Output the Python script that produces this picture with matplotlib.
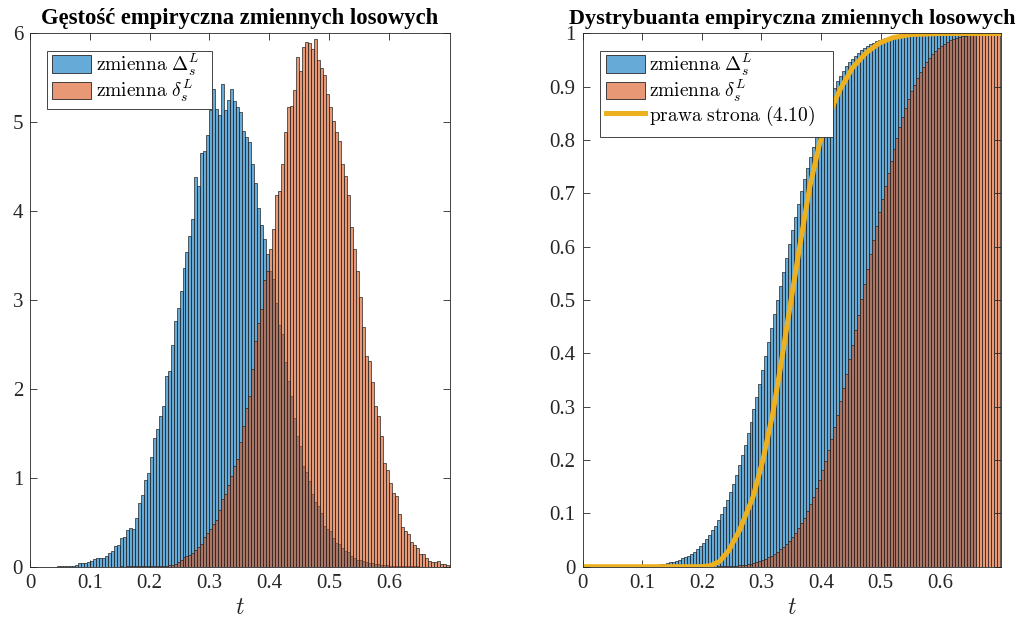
import numpy as np
import matplotlib
matplotlib.use('Agg')
import matplotlib.pyplot as plt
from matplotlib.lines import Line2D
from matplotlib.patches import Patch, Rectangle

plt.rcParams['mathtext.fontset'] = 'cm'
plt.rcParams['font.family'] = ['Liberation Serif', 'DejaVu Serif']

# ---------------- data ----------------
bin_width = 0.005

# empirical density of Delta_s^L, bins [0.005*i, 0.005*(i+1)), i = 0..131
blue_density = [
    0, 0, 0, 0, 0, 0, 0, 0, 0, 0.01,
    0.003, 0.005, 0.008, 0.01, 0.012, 0.02, 0.04, 0.045, 0.04, 0.05,
    0.065, 0.087, 0.094, 0.094, 0.10, 0.12, 0.15, 0.18, 0.23, 0.24,
    0.32, 0.33, 0.41, 0.44, 0.42, 0.55, 0.72, 0.81, 0.98, 1.05,
    1.23, 1.45, 1.55, 1.69, 1.81, 2.15, 2.20, 2.49, 2.76, 2.91,
    3.10, 3.36, 3.54, 3.72, 3.91, 4.38, 4.28, 4.65, 4.68, 4.86,
    5.14, 5.37, 5.15, 5.08, 5.43, 5.14, 5.25, 5.38, 5.24, 5.17,
    5.12, 4.90, 4.83, 4.78, 4.53, 4.32, 4.04, 3.84, 3.69, 3.52,
    3.33, 3.24, 2.97, 2.72, 2.62, 2.30, 2.09, 1.92, 1.67, 1.47,
    1.36, 1.13, 1.07, 0.96, 0.82, 0.73, 0.68, 0.60, 0.46, 0.42,
    0.40, 0.32, 0.27, 0.25, 0.21, 0.18, 0.16, 0.12, 0.10, 0.08,
    0.07, 0.06, 0.05, 0.042, 0.036, 0.03, 0.026, 0.022, 0.018, 0.015,
    0.013, 0.011, 0.01, 0.008, 0.007, 0.006, 0.005, 0.004, 0.004, 0.003,
    0.002, 0.002,
]

# empirical density of delta_s^L, bins i = 0..139
red_density = [
    0, 0, 0, 0, 0, 0, 0, 0, 0, 0,
    0, 0, 0, 0, 0, 0, 0, 0, 0, 0,
    0, 0, 0, 0, 0, 0, 0, 0, 0, 0,
    0.003, 0.001, 0.003, 0.003, 0.003, 0.003, 0.003, 0.003, 0.003, 0.003,
    0.005, 0.005, 0.008, 0.008, 0.01, 0.01, 0.015, 0.02, 0.03, 0.056,
    0.075, 0.11, 0.12, 0.13, 0.15, 0.19, 0.22, 0.26, 0.33, 0.38,
    0.42, 0.48, 0.53, 0.64, 0.76, 0.82, 0.92, 1.02, 1.13, 1.21,
    1.40, 1.58, 1.79, 1.92, 2.22, 2.54, 2.74, 2.90, 3.23, 3.33,
    3.57, 3.80, 4.18, 4.23, 4.53, 4.89, 5.17, 5.18, 5.36, 5.73,
    5.58, 5.85, 5.90, 5.89, 5.82, 5.94, 5.70, 5.61, 5.53, 5.32,
    5.17, 5.02, 4.89, 4.79, 4.53, 4.40, 4.18, 3.82, 3.57, 3.33,
    3.03, 2.70, 2.37, 2.31, 2.08, 1.81, 1.69, 1.47, 1.17, 1.09,
    0.94, 0.83, 0.79, 0.59, 0.45, 0.40, 0.37, 0.28, 0.24, 0.21,
    0.14, 0.14, 0.094, 0.068, 0.056, 0.056, 0.064, 0.03, 0.034, 0.02,
]

# right-hand side of (4.10)
curve_t = [0.0, 0.2, 0.215, 0.23, 0.245, 0.2635, 0.286, 0.3025, 0.319, 0.333,
           0.347, 0.364, 0.381, 0.3975, 0.414, 0.431, 0.453, 0.476, 0.498,
           0.52, 0.55, 0.6, 0.702]
curve_F = [0.0, 0.0, 0.002, 0.01, 0.03, 0.069, 0.131, 0.2, 0.287, 0.381,
           0.481, 0.599, 0.712, 0.793, 0.849, 0.893, 0.936, 0.964, 0.982,
           0.992, 0.998, 1.0, 1.0]

titles = ['Gęstość empiryczna zmiennych losowych',
          'Dystrybuanta empiryczna zmiennych losowych']
label_blue = r'$\mathrm{zmienna}\ \Delta_s^L$'
label_red = r'$\mathrm{zmienna}\ \delta_s^L$'
label_curve = r'$\mathrm{prawa\ strona\ (4.10)}$'

# ---------------- style ----------------
blue = (0.0, 0.447, 0.741, 0.6)
red = (0.85, 0.325, 0.098, 0.6)
yellow = '#EDB120'
edge = '#262626'
axcol = '#262626'
xmax = 0.702


def nonzero_range(vals):
    idx = [i for i, v in enumerate(vals) if v > 0]
    return idx[0], idx[-1] + 1


def draw_bars(ax, vals, color):
    a, b = nonzero_range(vals)
    left = np.arange(len(vals)) * bin_width
    ax.bar(left[a:b], vals[a:b], width=bin_width, align='edge',
           facecolor=color, edgecolor=edge, linewidth=0.5)


def style_axes(ax):
    ax.set_xlim(0, xmax)
    ax.set_xticks(np.arange(0, 0.61, 0.1))
    ax.set_xticklabels(['0', '0.1', '0.2', '0.3', '0.4', '0.5', '0.6'])
    ax.tick_params(direction='in', top=True, right=True, labelsize=15,
                   length=5, width=0.6, colors=axcol, pad=5)
    for s in ax.spines.values():
        s.set_color(axcol)
        s.set_linewidth(0.6)
    ax.set_xlabel(r'$t$', fontsize=17, labelpad=4, color=axcol)


fig = plt.figure(figsize=(10.24, 6.2), dpi=100)
ax1 = fig.add_axes([0.0293, 0.086, 0.410, 0.860])
ax2 = fig.add_axes([0.569, 0.086, 0.4085, 0.860])

# left: densities
draw_bars(ax1, blue_density, blue)
draw_bars(ax1, red_density, red)
style_axes(ax1)
ax1.set_ylim(0, 6)
ax1.set_yticks(range(0, 7))
ax1.set_title(titles[0], fontsize=16.3, fontweight='bold', pad=7)

# right: empirical CDFs
blue_arr = np.array(blue_density)
red_arr = np.array(red_density)
blue_cdf = list(np.cumsum(blue_arr) / blue_arr.sum())
red_cdf = list(np.cumsum(red_arr) / red_arr.sum())
a_b, b_b = nonzero_range(blue_density)
a_r, b_r = nonzero_range(red_density)
blue_cdf_plot = [0] * a_b + blue_cdf[a_b:b_b]
red_cdf_plot = [0] * a_r + red_cdf[a_r:b_r]
left_b = np.arange(len(blue_cdf_plot)) * bin_width
left_r = np.arange(len(red_cdf_plot)) * bin_width
ax2.bar(left_b[a_b:], blue_cdf_plot[a_b:], width=bin_width, align='edge',
        facecolor=blue, edgecolor=edge, linewidth=0.5)
ax2.bar(left_r[a_r:], red_cdf_plot[a_r:], width=bin_width, align='edge',
        facecolor=red, edgecolor=edge, linewidth=0.5)
ax2.plot(curve_t, curve_F, color=yellow, linewidth=3.6, solid_capstyle='butt')
style_axes(ax2)
ax2.set_ylim(0, 1)
ax2.set_yticks(np.arange(0, 1.01, 0.1))
ax2.set_yticklabels(['0', '0.1', '0.2', '0.3', '0.4', '0.5', '0.6', '0.7',
                     '0.8', '0.9', '1'])
ax2.set_title(titles[1], fontsize=15.9, fontweight='bold', pad=7)

# legends (frame drawn as a separate rectangle, like MATLAB's box)
h_blue = Patch(facecolor=blue, edgecolor=edge, linewidth=0.6)
h_red = Patch(facecolor=red, edgecolor=edge, linewidth=0.6)
h_line = Line2D([], [], color=yellow, linewidth=3.6)
leg_kw = dict(fontsize=14, frameon=False, handlelength=2.0, handleheight=1.0,
              borderpad=0.0, labelspacing=0.0, handletextpad=0.25,
              borderaxespad=0.0, loc='upper left')


def legend_box(ax, x0, y0, x1, y1):
    r = Rectangle((x0, y0), x1 - x0, y1 - y0, transform=ax.transAxes,
                  facecolor='white', edgecolor=axcol, linewidth=0.6,
                  zorder=4.5)
    ax.add_patch(r)


legend_box(ax1, 0.0398, 0.858, 0.433, 0.9675)
l1 = ax1.legend([h_blue, h_red], [label_blue, label_red],
                bbox_to_anchor=(0.0524, 0.966), **leg_kw)
legend_box(ax2, 0.0414, 0.806, 0.5977, 0.9675)
l2 = ax2.legend([h_blue, h_red, h_line], [label_blue, label_red, label_curve],
                bbox_to_anchor=(0.055, 0.966), **leg_kw)

fig.savefig('out.png', dpi=100)
